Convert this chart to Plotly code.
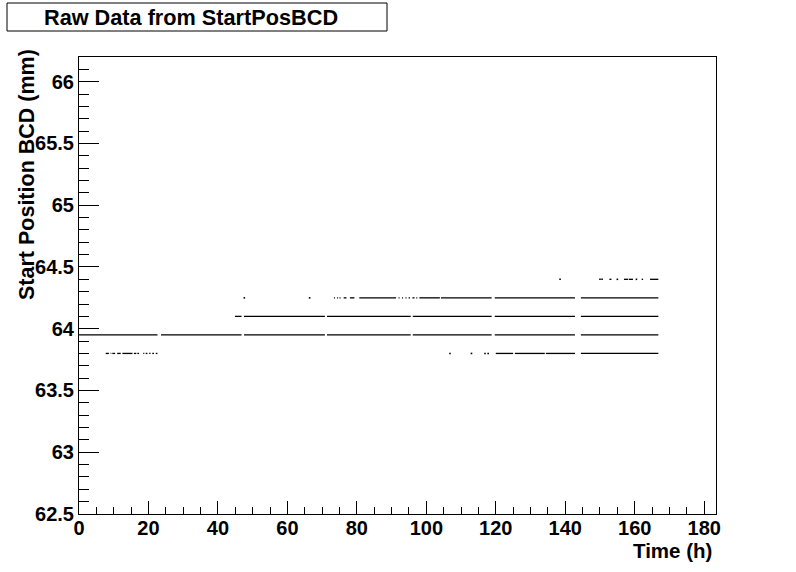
import plotly.graph_objects as go

# ---------------- data ----------------
# Quantised start-position levels (mm)
levels = [63.80, 63.95, 64.10, 64.25, 64.40]

# continuous runs of readings on each level: start / end times (h)
seg_63_95_start = [0.0, 23.6, 47.5, 71.4, 96.1, 119.7, 144.5]
seg_63_95_end   = [22.6, 46.8, 70.8, 95.5, 118.8, 142.8, 166.8]

seg_64_10_start = [44.9, 47.5, 71.4, 96.1, 119.7, 144.5]
seg_64_10_end   = [46.8, 70.8, 95.5, 118.8, 142.8, 166.8]

seg_64_25_start = [73.4, 74.3, 75.0, 76.2, 78.0, 80.7, 92.0, 93.0, 94.0, 94.9,
                   96.0, 97.1, 98.0, 104.2, 119.7, 144.5]
seg_64_25_end   = [73.7, 74.6, 75.3, 77.0, 79.3, 91.3, 92.3, 93.3, 94.3, 95.3,
                   96.6, 97.4, 103.9, 118.8, 142.8, 166.8]

seg_63_80_start = [7.7, 9.1, 9.6, 11.0, 12.5, 15.8, 16.8, 18.5, 19.2, 20.2, 21.1, 22.1,
                   120.0, 125.5, 134.4, 144.5]
seg_63_80_end   = [8.6, 9.3, 10.4, 12.0, 15.4, 16.5, 17.3, 18.8, 19.7, 20.6, 21.6, 22.6,
                   125.0, 134.1, 142.8, 166.8]

seg_64_40_start = [152.7, 156.9, 158.3, 162.0, 164.4]
seg_64_40_end   = [153.3, 158.1, 159.5, 162.4, 166.8]

# isolated readings (h) on each level
pts_63_80 = [106.8, 113.0, 116.9, 117.8]
pts_64_25 = [47.6, 66.4]
pts_64_40 = [138.5, 150.0, 150.6, 155.0, 160.5]

x_ticks = [0, 20, 40, 60, 80, 100, 120, 140, 160, 180]
y_ticks = [62.5, 63, 63.5, 64, 64.5, 65, 65.5, 66]
y_tick_text = ["62.5", "63", "63.5", "64", "64.5", "65", "65.5", "66"]

title_text = "Raw Data from StartPosBCD"
x_title = "Time (h)"
y_title = "Start Position BCD (mm)"

# ---------------- figure ----------------
W, H = 796, 572
L, R, T, B = 79, 716, 57, 514          # plot frame in pixels
pw, ph = R - L, B - T


def px_x(p):
    return (p - L) / pw


def px_y(p):
    return (B - p) / ph


fig = go.Figure()

segments = [
    (levels[0], seg_63_80_start, seg_63_80_end),
    (levels[1], seg_63_95_start, seg_63_95_end),
    (levels[2], seg_64_10_start, seg_64_10_end),
    (levels[3], seg_64_25_start, seg_64_25_end),
    (levels[4], seg_64_40_start, seg_64_40_end),
]
for lev, st, en in segments:
    xs, ys = [], []
    for a, b in zip(st, en):
        xs += [a, b, None]
        ys += [lev, lev, None]
    fig.add_trace(go.Scatter(x=xs, y=ys, mode="lines",
                             line=dict(color="black", width=1.3),
                             hoverinfo="skip", showlegend=False))

for lev, pts in [(levels[0], pts_63_80), (levels[3], pts_64_25), (levels[4], pts_64_40)]:
    fig.add_trace(go.Scatter(x=pts, y=[lev] * len(pts), mode="markers",
                             marker=dict(color="black", size=1.6, symbol="square",
                                         line=dict(width=0)),
                             hoverinfo="skip", showlegend=False))

font_family = "Liberation Sans, Arial, Helvetica, sans-serif"

fig.update_layout(
    width=W, height=H,
    margin=dict(l=L, r=W - R, t=T, b=H - B, pad=0),
    paper_bgcolor="white", plot_bgcolor="white",
    font=dict(family=font_family, color="black"),
    showlegend=False,
)

fig.update_xaxes(
    range=[0, 183.4], showgrid=False, zeroline=False,
    showline=True, linecolor="black", linewidth=1, mirror=True,
    ticks="inside", ticklen=13, tickwidth=1, tickcolor="black",
    tickvals=x_ticks, ticktext=[str(v) for v in x_ticks],
    ticklabelstandoff=-4,
    tickfont=dict(size=20, family=font_family, color="black", weight="bold"),
    minor=dict(dtick=5, tick0=0, ticks="inside", ticklen=7, tickcolor="black", tickwidth=1,
               showgrid=False),
)
fig.update_yaxes(
    range=[62.5, 66.2], showgrid=False, zeroline=False,
    showline=True, linecolor="black", linewidth=1, mirror=True,
    ticks="inside", ticklen=20, tickwidth=1, tickcolor="black",
    tickvals=y_ticks, ticktext=y_tick_text,
    tickfont=dict(size=20, family=font_family, color="black", weight="bold"),
    minor=dict(dtick=0.1, tick0=62.5, ticks="inside", ticklen=10, tickcolor="black",
               tickwidth=1, showgrid=False),
)

# title box
fig.add_shape(type="rect", xref="paper", yref="paper",
              x0=px_x(7), x1=px_x(387), y0=px_y(31), y1=px_y(3),
              line=dict(color="black", width=1), fillcolor="white", layer="above")
fig.add_annotation(text=title_text, xref="paper", yref="paper",
                   x=px_x(191), y=px_y(18), xanchor="center", yanchor="middle",
                   showarrow=False,
                   font=dict(size=21.7, family=font_family, color="black", weight="bold"))

# axis titles
fig.add_annotation(text=x_title, xref="paper", yref="paper",
                   x=px_x(714), y=px_y(550), xanchor="right", yanchor="middle",
                   showarrow=False,
                   font=dict(size=20.5, family=font_family, color="black", weight="bold"))
fig.add_annotation(text=y_title, xref="paper", yref="paper",
                   x=px_x(27), y=px_y(175), xanchor="center", yanchor="middle",
                   textangle=-90, showarrow=False,
                   font=dict(size=21.5, family=font_family, color="black", weight="bold"))

fig.write_html("out.html", config={"displayModeBar": False, "staticPlot": True})

# remove the browser's default body margin so the figure sits at the page origin
with open("out.html", "r", encoding="utf-8") as f:
    html = f.read()
html = html.replace("<head>", "<head><style>html,body{margin:0;padding:0;}</style>", 1)
with open("out.html", "w", encoding="utf-8") as f:
    f.write(html)
